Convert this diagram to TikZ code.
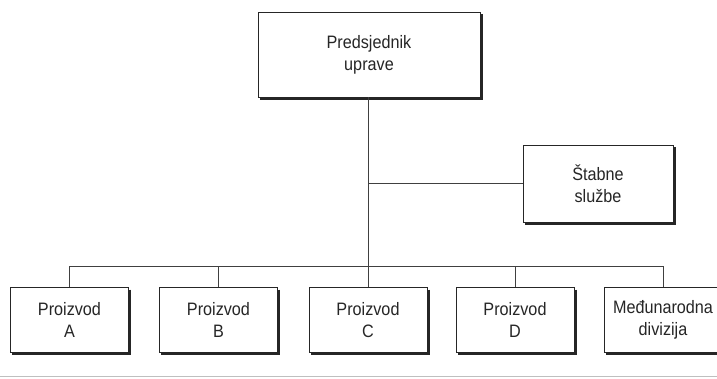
\documentclass[tikz,border=0pt]{standalone}
\usepackage{fontspec}
\setmainfont{Liberation Sans}[FakeStretch = 0.9]
\usetikzlibrary{calc}
\begin{document}
\begin{tikzpicture}[
              x = 1pt, y = -1pt,
              unit/.style = {draw = black!85, line width = 0.7pt, fill = white,
                             align = center, text = black!85,
                             font = \fontsize{18}{22}\selectfont},
              prod/.style = {unit, minimum width = 118pt, minimum height = 65pt},
              link/.style = {draw = black!75, line width = 0.6pt},
              boxshadow/.style = {draw = black!85, line width = 2.6pt}
            ]
            \clip (0, 0) rectangle (717, 379);
            \fill[white] (0, 0) rectangle (717, 379);
            % nodes
            \node[unit, minimum width = 222pt, minimum height = 85pt] (pres) at (369, 54.5) {Predsjednik\\uprave};
            \node[unit, minimum width = 150pt, minimum height = 77pt] (stab) at (598, 183.5) {Štabne\\službe};
            \node[prod] (pa) at (69.5, 320) {Proizvod\\A};
            \node[prod] (pb) at (218.5, 320) {Proizvod\\B};
            \node[prod] (pc) at (368, 320) {Proizvod\\C};
            \node[prod] (pd) at (515, 320) {Proizvod\\D};
            \node[prod] (pe) at (663, 320) {Međunarodna\\divizija};
            % shadows on the lower and right edges
            \foreach \n in {pres, stab, pa, pb, pc, pd, pe}
              \draw[boxshadow] ($(\n.north east) + (0.9, 2.5)$) -- ($(\n.south east) + (0.9, 0.9)$)
                               -- ($(\n.south west) + (2, 0.9)$);
            % the bar above the divisions
            \coordinate (bar) at (368, 266);
            \coordinate (tap) at (368, 183.5);
            % connectors
            \draw[link] (pres.south -| bar) -- (bar);
            \draw[link] (tap) -- (stab.west);
            \draw[link] (pa.north) -- (pa.north |- bar) -- (pe.north |- bar) -- (pe.north);
            \draw[link] (pb.north) -- (pb.north |- bar);
            \draw[link] (pc.north) -- (pc.north |- bar);
            \draw[link] (pd.north) -- (pd.north |- bar);
            % page edge
            \draw[black!25, line width = 1pt] (0, 376.5) -- (717, 376.5);
          \end{tikzpicture}
\end{document}
